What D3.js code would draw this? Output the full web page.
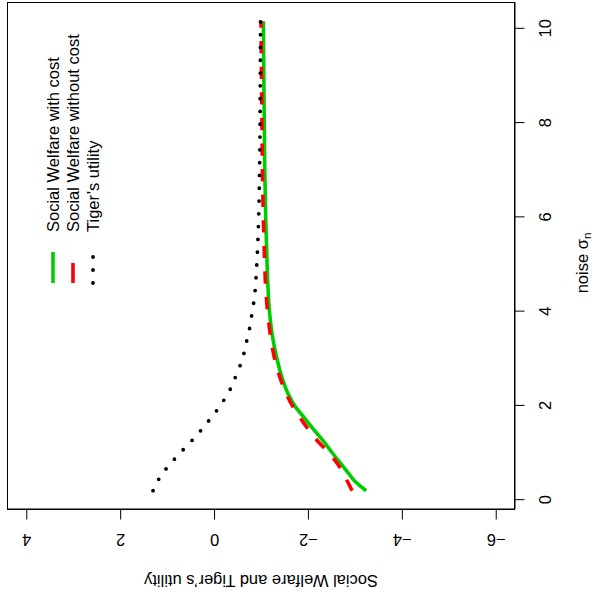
<!DOCTYPE html>
<html>
<head>
<meta charset="utf-8">
<script src="https://cdn.jsdelivr.net/npm/d3@7"></script>
<style>
  * { margin: 0; padding: 0; }
  body { background: #fff; }
  svg text { font-family: "Liberation Sans", Arial, sans-serif; fill: #000; }
</style>
</head>
<body>
<svg id="chart" width="594" height="599"></svg>
<script>
// values (noise sigma_n on x, utility on y)
const sigma = [0.2, 0.4, 0.6, 0.8, 1.0, 1.25, 1.5, 1.75, 2.0, 2.25, 2.5, 3.0, 3.5, 4.0, 4.5, 5, 6, 7, 8, 9, 10.16];
const welfareWithCost = [-3.24, -3.0, -2.84, -2.68, -2.52, -2.33, -2.12, -1.92, -1.72, -1.58, -1.48, -1.34, -1.24, -1.18, -1.15, -1.13, -1.1, -1.08, -1.07, -1.06, -1.05];
const welfareWithoutCost = [-2.94, -2.84, -2.74, -2.61, -2.45, -2.21, -2.01, -1.83, -1.67, -1.54, -1.44, -1.29, -1.2, -1.14, -1.1, -1.08, -1.05, -1.03, -1.02, -1.01, -1.0];
const tigerSigma = [0.2, 0.52, 0.74, 0.94, 1.13, 1.33, 1.54, 1.75, 1.96, 2.19, 2.42, 2.68, 2.92, 3.19, 3.45, 3.71, 3.98, 4.23, 5, 6, 7, 8, 9, 10.16];
const tigerUtility = [1.3, 1.13, 0.96, 0.78, 0.6, 0.41, 0.23, 0.06, -0.1, -0.25, -0.38, -0.48, -0.58, -0.655, -0.71, -0.77, -0.81, -0.85, -0.91, -0.95, -0.97, -0.98, -0.985, -0.99];

const xTicks = [0, 2, 4, 6, 8, 10];
const yTicks = [-6, -4, -2, 0, 2, 4];
const yLimits = [-6, 4];

const legendLabels = ["Social Welfare with cost", "Social Welfare without cost", "Tiger\u2019s utility"];
const xTitle = "noise \u03c3";
const xTitleSub = "n";
const yTitle = "Social Welfare and Tiger\u2019s utility";

// the plot is drawn upright in a 599 x 594 frame, then turned a quarter left
const W = 599, H = 594;
const fs = 16.5;
const box = { left: 89.5, right: 596.5, top: 7.5, bottom: 514.5 };

// R-style 4% axis extension
const ext = ([a, b]) => [a - 0.04 * (b - a), b + 0.04 * (b - a)];

const x = d3.scaleLinear().domain(ext(d3.extent(sigma))).range([box.left, box.right]);
const y = d3.scaleLinear().domain(ext(yLimits)).range([box.bottom, box.top]);

const svg = d3.select("#chart");
const g = svg.append("g").attr("transform", `translate(0,${W}) rotate(-90)`);

// axes
const xAxis = g.append("g")
  .attr("transform", `translate(0,${box.bottom})`)
  .call(d3.axisBottom(x).tickValues(xTicks).tickSizeInner(10).tickSizeOuter(0).tickPadding(15));

const yAxis = g.append("g")
  .attr("transform", `translate(${box.left},0)`)
  .call(d3.axisLeft(y).tickValues(yTicks).tickSizeInner(10).tickSizeOuter(0));

[xAxis, yAxis].forEach(a => {
  a.attr("font-size", null).attr("font-family", null);
  a.selectAll("text").style("font-size", fs + "px");
  a.selectAll("line, path").attr("stroke", "#000");
});

yAxis.selectAll(".tick text")
  .attr("x", null).attr("dy", null)
  .attr("text-anchor", "middle")
  .attr("transform", "translate(-24.5,0) rotate(-90)");

// box
g.append("rect")
  .attr("x", box.left).attr("y", box.top)
  .attr("width", box.right - box.left).attr("height", box.bottom - box.top)
  .attr("fill", "none").attr("stroke", "#000");

// axis titles
const xt = g.append("text")
  .attr("x", (box.left + box.right) / 2 - 7)
  .attr("y", 587.5)
  .attr("text-anchor", "middle")
  .style("font-size", fs + "px");
xt.append("tspan").text(xTitle);
xt.append("tspan").attr("dy", 3).style("font-size", (fs * 0.7) + "px").text(xTitleSub);

g.append("text")
  .attr("transform", `translate(24,${(box.top + box.bottom) / 2}) rotate(-90)`)
  .attr("text-anchor", "middle")
  .style("font-size", fs + "px")
  .text(yTitle);

// lines
const styles = [
  { color: "#00CD00", dash: null, cap: "butt", width: 3.6 },
  { color: "#FF0000", dash: "12.3,13.3", cap: "butt", width: 3.6 },
  { color: "#000", dash: "0,12.8", cap: "round", width: 3.8 }
];

const series = [
  sigma.map((s, i) => [s, welfareWithCost[i]]),
  sigma.map((s, i) => [s, welfareWithoutCost[i]]),
  tigerSigma.map((s, i) => [s, tigerUtility[i]])
];

const line = d3.line().x(d => x(d[0])).y(d => y(d[1])).curve(d3.curveMonotoneX);

g.selectAll(".series")
  .data(series)
  .enter()
  .append("path")
  .attr("class", "series")
  .attr("d", line)
  .attr("fill", "none")
  .attr("stroke", (d, i) => styles[i].color)
  .attr("stroke-width", (d, i) => styles[i].width)
  .attr("stroke-dasharray", (d, i) => styles[i].dash)
  .attr("stroke-linecap", (d, i) => styles[i].cap);

// legend (no frame)
const legendDash = [null, "20,20", "0,13"];
const legend = g.append("g");
legendLabels.forEach((label, i) => {
  const ly = 53 + 20 * i;
  legend.append("line")
    .attr("x1", 316).attr("x2", 347)
    .attr("y1", ly).attr("y2", ly)
    .attr("stroke", styles[i].color)
    .attr("stroke-width", styles[i].width)
    .attr("stroke-dasharray", legendDash[i])
    .attr("stroke-linecap", styles[i].cap);
  legend.append("text")
    .attr("x", 367)
    .attr("y", ly + 6)
    .style("font-size", fs + "px")
    .text(label);
});
</script>
</body>
</html>
